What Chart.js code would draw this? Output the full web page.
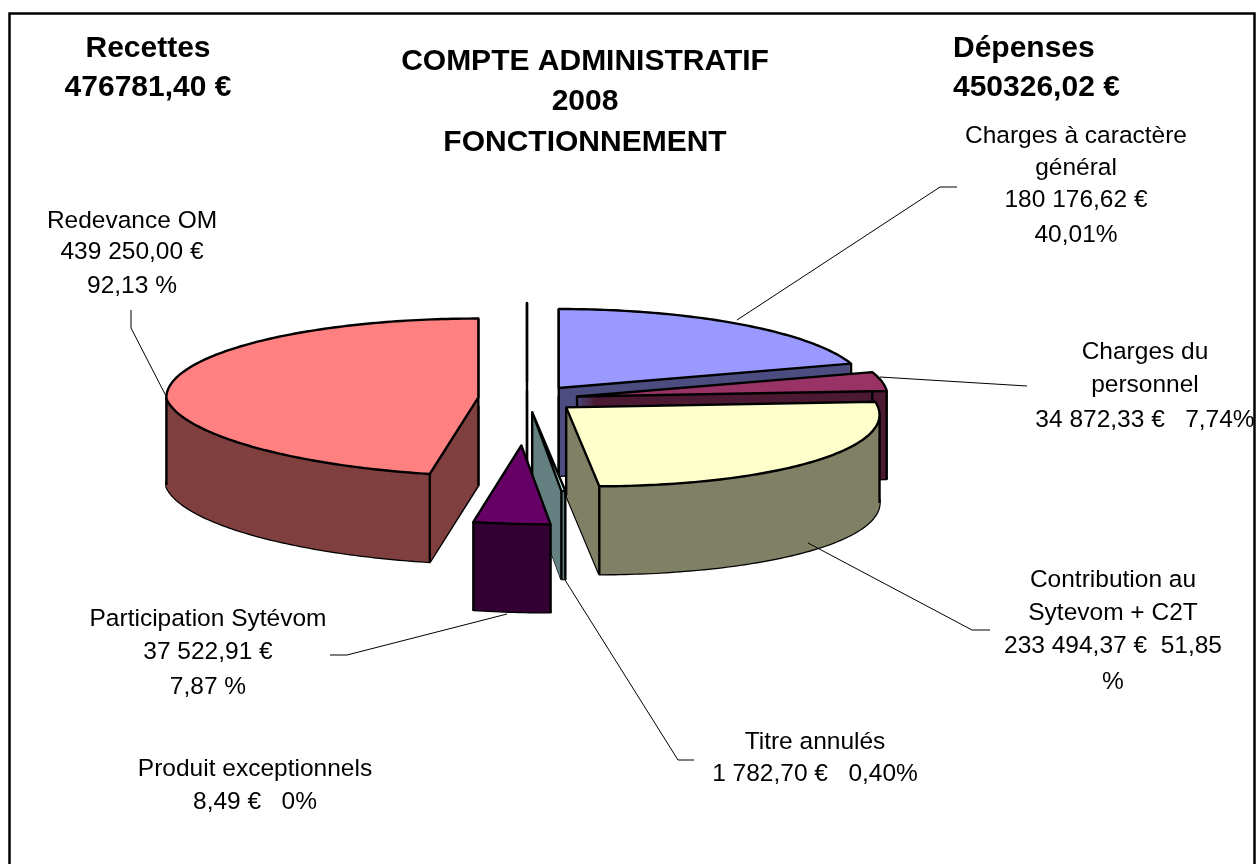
<!DOCTYPE html>
<html lang="fr">
<head>
<meta charset="utf-8">
<title>Compte administratif 2008</title>
<script src="https://cdn.jsdelivr.net/npm/chart.js"></script>
<style>
  html, body { margin: 0; padding: 0; background: #fff; overflow: hidden; }
  canvas { display: block; }
</style>
</head>
<body>
<canvas id="chart" width="1259" height="864"></canvas>
<script>
// Values (each half of the pie adds up to 100 %)
const categories = ['Charges à caractère général', 'Charges du personnel', 'Contribution au Sytevom + C2T', 'Titre annulés', 'Participation Sytévom', 'Redevance OM', 'Produit exceptionnels'];
const percentages = [40.01, 7.74, 51.85, 0.40, 7.87, 92.13, 0.0018];
const topColors = ['#9999FF', '#993366', '#FFFFCC', '#CCFFFF', '#660066', '#FF8080', '#000000'];
const sideColors = ['#4D4D80', '#4D1A33', '#808066', '#668080', '#330033', '#804040', '#000000'];

// Distance each slice is pulled out of the pie, before flattening
const explode = [54, 51, 49, 52, 185, 49, 68];
// The slices at the back look a little narrower
const sliceWidth = [0.985, 0.995, 1, 1, 1, 1, 1];
const drawOrder = [6, 0, 1, 2, 5, 3, 4];

const PIE_RADIUS = 312;
const FLATTEN = 0.253;
const SHEAR = 0.37;
const DEPTH = 88;
const OUTLINE = 2.4;

// Text blocks: [center x or left x, align, font, [[line, baseline y], ...]]
const BOLD_HEAD = 'bold 30px "Liberation Sans", Arial, sans-serif';
const BODY = '24.5px "Liberation Sans", Arial, sans-serif';
const textBlocks = [
  [148, 'center', BOLD_HEAD, [['Recettes', 57], ['476781,40 €', 96]]],
  [585, 'center', BOLD_HEAD, [['COMPTE ADMINISTRATIF', 70], ['2008', 110], ['FONCTIONNEMENT', 151]]],
  [953, 'left', BOLD_HEAD, [['Dépenses', 57], ['450326,02 €', 96]]],
  [1076, 'center', BODY, [['Charges à caractère', 143], ['général', 175], ['180 176,62 €', 207], ['40,01%', 242]]],
  [1145, 'center', BODY, [['Charges du', 359], ['personnel', 392], ['34 872,33 €   7,74%', 427]]],
  [1113, 'center', BODY, [['Contribution au', 587], ['Sytevom + C2T', 620], ['233 494,37 €  51,85', 653], ['%', 689]]],
  [815, 'center', BODY, [['Titre annulés', 749], ['1 782,70 €   0,40%', 781]]],
  [255, 'center', BODY, [['Produit exceptionnels', 776], ['8,49 €   0%', 809]]],
  [208, 'center', BODY, [['Participation Sytévom', 626], ['37 522,91 €', 659], ['7,87 %', 694]]],
  [132, 'center', BODY, [['Redevance OM', 228], ['439 250,00 €', 259], ['92,13 %', 293]]]
];

// Leader lines from the slices to their labels
const leaders = [
  [[737, 320], [940, 187], [957, 187]],
  [[880, 377], [1027, 386]],
  [[808, 543], [972, 630], [990, 630]],
  [[565, 580], [678, 760], [694, 760]],
  [[507, 614], [347, 655], [330, 655]],
  [[166, 396], [131, 328], [131, 310]]
];

// Maps a point of the flat pie to the page for one exploded slice
const sliceGeometry = (el, distance, width) => {
  const mid = (el.startAngle + el.endAngle) / 2;
  const ox = Math.cos(mid) * distance;
  const oy = Math.sin(mid) * distance;
  const project = (x, y, depth = 0) => {
    const flatY = el.y + FLATTEN * (y + oy - el.y);
    const lean = flatY > el.y ? SHEAR * (flatY - el.y) : 0;
    return [el.x + width * (x - el.x) + ox + lean, flatY + depth];
  };
  return { ox, oy, width, project };
};

// Fills one layer of a slice with the library's own arc drawing
const fillLayer = (ctx, chart, el, geo, depth, colour, edgeWidth = 0) => {
  const layer = Object.create(el);
  layer.options = { backgroundColor: colour, borderColor: colour, borderWidth: edgeWidth, borderJoinStyle: 'round', offset: 0, spacing: 0, circular: true, borderAlign: 'center' };
  const f = el.y + FLATTEN * (geo.oy - el.y) + depth;
  const edge = el.y + depth;
  const e = geo.ox + el.x * (1 - geo.width);

  ctx.save();
  ctx.beginPath();
  ctx.rect(0, 0, chart.width, edge);
  ctx.clip();
  ctx.setTransform(geo.width, 0, 0, FLATTEN, e, f);
  layer.draw(ctx);
  ctx.restore();

  ctx.save();
  ctx.beginPath();
  ctx.rect(0, edge, chart.width, chart.height - edge);
  ctx.clip();
  ctx.setTransform(geo.width, 0, SHEAR * FLATTEN, FLATTEN, e + SHEAR * FLATTEN * (geo.oy - el.y), f);
  layer.draw(ctx);
  ctx.restore();
};

const arcPoints = (el, geo, depth) => {
  const pts = [];
  const steps = Math.max(2, Math.ceil((el.endAngle - el.startAngle) * 60));
  for (let i = 0; i <= steps; i++) {
    const a = el.startAngle + (el.endAngle - el.startAngle) * i / steps;
    pts.push(geo.project(el.x + PIE_RADIUS * Math.cos(a), el.y + PIE_RADIUS * Math.sin(a), depth));
  }
  return pts;
};

const strokeOutline = (ctx, el, geo, depth) => {
  const apex = geo.project(el.x, el.y, depth);
  ctx.beginPath();
  ctx.moveTo(apex[0], apex[1]);
  arcPoints(el, geo, depth).forEach(p => ctx.lineTo(p[0], p[1]));
  ctx.closePath();
  ctx.stroke();
};

const strokeEdges = (ctx, el, geo) => {
  const apex = geo.project(el.x, el.y);
  const pts = arcPoints(el, geo, 0);
  const byX = [...pts].sort((a, b) => a[0] - b[0]);
  const edges = [byX[0], byX[byX.length - 1]];
  // corners only show as an edge when they point towards the viewer
  [pts[0], pts[pts.length - 1]].forEach(p => { if (p[1] > apex[1]) edges.push(p); });
  // same for the centre of the slice, only when it sticks out sideways
  if (apex[0] <= byX[0][0] || apex[0] >= byX[byX.length - 1][0]) edges.push(apex);
  ctx.beginPath();
  edges.forEach(p => {
    ctx.moveTo(p[0], p[1]);
    ctx.lineTo(p[0], p[1] + DEPTH);
  });
  ctx.stroke();
};

// Draws the slices as solid blocks, back to front
const solidPie = {
  id: 'solidPie',
  beforeDatasetDraw(chart, args) {
    const ctx = chart.ctx;
    const arcs = args.meta.data;
    ctx.save();
    ctx.strokeStyle = '#000';
    ctx.lineWidth = OUTLINE;
    ctx.lineJoin = 'round';
    drawOrder.forEach(i => {
      const el = arcs[i];
      const geo = sliceGeometry(el, explode[i], sliceWidth[i]);
      // very thin slices need a border or their side turns see-through
      const thin = el.circumference < 0.1 ? 1.2 : 0;
      strokeOutline(ctx, el, geo, DEPTH);
      for (let d = DEPTH; d >= 1; d--) fillLayer(ctx, chart, el, geo, d, sideColors[i], thin);
      strokeEdges(ctx, el, geo);
      fillLayer(ctx, chart, el, geo, 0, topColors[i]);
      strokeOutline(ctx, el, geo, 0);
    });
    ctx.restore();
    return false;
  }
};

const chartFrame = {
  id: 'chartFrame',
  beforeDraw(chart) {
    const ctx = chart.ctx;
    ctx.save();
    ctx.fillStyle = '#fff';
    ctx.fillRect(0, 0, chart.width, chart.height);
    ctx.strokeStyle = '#000';
    ctx.lineWidth = 2.5;
    ctx.strokeRect(9.5, 13.5, 1245, 900);
    ctx.restore();
  },
  afterDraw(chart) {
    const ctx = chart.ctx;
    ctx.save();
    ctx.strokeStyle = '#000';
    ctx.lineWidth = 1;
    leaders.forEach(line => {
      ctx.beginPath();
      line.forEach((p, i) => i ? ctx.lineTo(p[0], p[1]) : ctx.moveTo(p[0], p[1]));
      ctx.stroke();
    });
    ctx.fillStyle = '#000';
    ctx.textBaseline = 'alphabetic';
    textBlocks.forEach(([x, align, font, lines]) => {
      ctx.font = font;
      ctx.textAlign = align;
      lines.forEach(([text, y]) => ctx.fillText(text, x, y));
    });
    ctx.restore();
  }
};

new Chart(document.getElementById('chart'), {
  type: 'pie',
  data: {
    labels: categories,
    datasets: [{
      data: percentages,
      backgroundColor: topColors,
      borderWidth: 0
    }]
  },
  options: {
    responsive: false,
    animation: false,
    radius: PIE_RADIUS,
    layout: { padding: { left: 0, right: 205, top: 0, bottom: 66 } },
    plugins: {
      legend: { display: false },
      tooltip: { enabled: false },
      title: { display: false }
    }
  },
  plugins: [chartFrame, solidPie]
});
</script>
</body>
</html>
